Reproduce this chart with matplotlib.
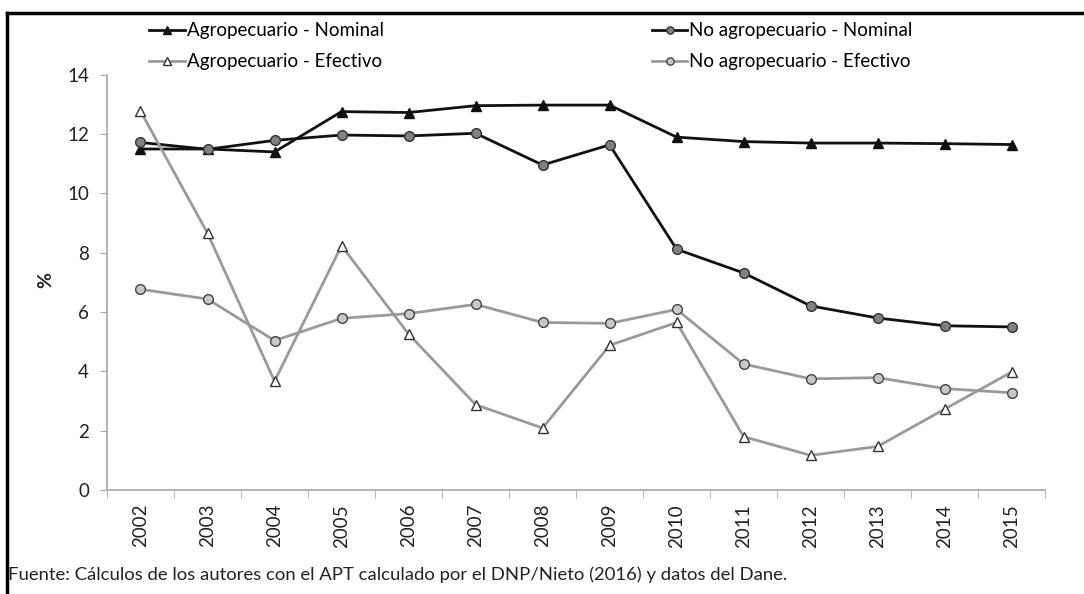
import matplotlib
matplotlib.use("Agg")
import matplotlib.pyplot as plt
from matplotlib.lines import Line2D
import numpy as np

years = [str(y) for y in range(2002, 2016)]
agro_nominal = [11.5, 11.5, 11.4, 12.76, 12.73, 12.96, 12.98, 12.98, 11.9, 11.75, 11.7, 11.7, 11.68, 11.65]
noagro_nominal = [11.72, 11.49, 11.79, 11.97, 11.94, 12.03, 10.96, 11.64, 8.12, 7.32, 6.21, 5.8, 5.54, 5.5]
agro_efectivo = [12.78, 8.66, 3.67, 8.24, 5.26, 2.88, 2.09, 4.88, 5.65, 1.8, 1.17, 1.47, 2.73, 3.98]
noagro_efectivo = [6.77, 6.44, 5.04, 5.79, 5.95, 6.26, 5.65, 5.62, 6.09, 4.25, 3.75, 3.79, 3.42, 3.28]

plt.rcParams['font.family'] = ['Lato', 'DejaVu Sans']

fig = plt.figure(figsize=(10.84, 5.94), dpi=100)
ax = fig.add_axes([0.0987, 0.175, 0.8655, 0.699])

x = np.arange(len(years))
dark = '#111111'
grey = '#9a9a9a'

ax.plot(x, agro_nominal, color=dark, lw=2, marker='^', ms=7, mfc=dark, mec=dark,
        label='Agropecuario - Nominal')
ax.plot(x, noagro_nominal, color=dark, lw=2, marker='o', ms=7, mfc='#808080', mec='#333333',
        label='No agropecuario - Nominal')
ax.plot(x, agro_efectivo, color=grey, lw=2, marker='^', ms=7, mfc='white', mec='#333333',
        mew=1, label='Agropecuario - Efectivo')
ax.plot(x, noagro_efectivo, color=grey, lw=2, marker='o', ms=7, mfc='#c8c8c8', mec='#444444',
        mew=1, label='No agropecuario - Efectivo')

ax.set_xlim(-0.5, len(years) - 0.5)
ax.set_ylim(0, 14)
ax.set_yticks(range(0, 15, 2))
ax.tick_params(axis='y', length=5, color='#a6a6a6', labelsize=13.5, labelcolor='#222222', pad=8)

ax.set_xticks(x)
ax.set_xticklabels(years, rotation=90, fontsize=13.5, color='#222222')
ax.set_xticks(np.arange(-0.5, len(years), 1), minor=True)
ax.tick_params(axis='x', which='major', length=0, pad=10)
ax.tick_params(axis='x', which='minor', length=6, color='#a6a6a6')

for s in ['top', 'right']:
    ax.spines[s].set_visible(False)
for s in ['left', 'bottom']:
    ax.spines[s].set_color('#a6a6a6')
    ax.spines[s].set_linewidth(1.2)

fig.text(0.042, 0.528, '%', fontsize=14, fontweight='bold', color='#222222',
         rotation=90, ha='center', va='center')

handles, labels = ax.get_legend_handles_labels()
order = [0, 2, 1, 3]
fig.legend([handles[i] for i in order], [labels[i] for i in order], ncol=2,
           loc='upper left', bbox_to_anchor=(0.122, 0.991), frameon=False, fontsize=13.5,
           handlelength=1.9, handletextpad=0.1, columnspacing=14.3, labelspacing=0.75,
           markerscale=0.75)

fig.text(0.007, 0.023, 'Fuente: Cálculos de los autores con el APT calculado por el DNP/Nieto (2016) y datos del Dane.',
         fontsize=13.3, color='#222222')

fig.add_artist(Line2D([0.006, 1.0], [0.978, 0.978], transform=fig.transFigure, color='black', lw=2.5))
fig.add_artist(Line2D([0.006, 0.006], [0.0, 0.978], transform=fig.transFigure, color='black', lw=2.5))

fig.savefig('out.png', dpi=100, facecolor='white')
